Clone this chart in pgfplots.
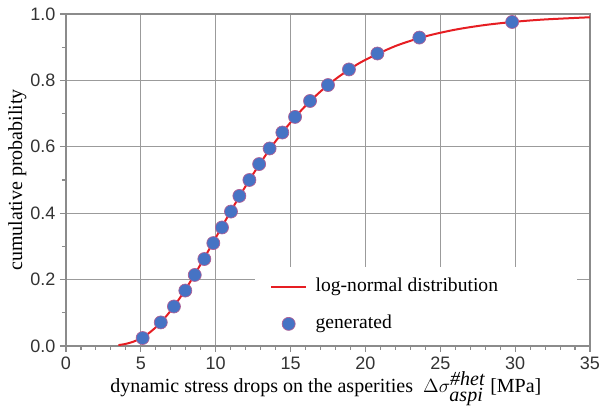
\documentclass[border=0pt]{standalone}
\usepackage{fontspec}
\setmainfont{Liberation Serif}
\newfontfamily\arial{Liberation Sans}
\usepackage{pgfplots}
\pgfplotsset{compat=1.18}
\definecolor{curvered}{RGB}{230,30,35}
\definecolor{dotblue}{RGB}{70,115,196}
\definecolor{dotedge}{RGB}{175,95,150}
\definecolor{gridgray}{RGB}{155,155,155}
\pgfplotsset{
  lineleg/.style={legend image code/.code={\draw[##1] (0pt,0pt) -- (26pt,0pt);}},
  dotleg/.style={legend image code/.code={\draw[##1] plot coordinates {(13pt,0pt)};}},
}

\begin{document}
\begin{tikzpicture}
\useasboundingbox (-49.5pt,-48pt) rectangle (403.5pt,259.5pt);
\begin{axis}[
  scale only axis,
  width=393pt, height=249pt,
  xmin=0, xmax=35, ymin=0, ymax=1,
  xtick={0,5,...,35},
  ytick={0,0.2,0.4,0.6,0.8,1.0},
  minor x tick num=4, minor y tick num=1,
  tick pos=left, tick align=outside,
  major tick length=4.5pt, minor tick length=3pt,
  grid=major,
  major grid style={gridgray, line width=0.9pt},
  axis line style={gridgray!90!black, line width=0.9pt},
  tick style={gridgray!90!black, line width=0.8pt},
  tick label style={font=\arial\fontsize{13.5}{15}\selectfont, text=black!80},
  /pgf/number format/assume math mode=true,
  yticklabel style={/pgf/number format/fixed, /pgf/number format/fixed zerofill,
    /pgf/number format/precision=1},
  xlabel={dynamic stress drops on the asperities\ \ $\Delta\sigma^{\textit{\#het}}_{\textit{aspi}}$ [MPa]},
  ylabel={cumulative probability},
  xlabel style={font=\fontsize{15}{17}\selectfont, at={(axis description cs:0.496,-0.128)}, anchor=center},
  ylabel style={font=\fontsize{15}{17}\selectfont, at={(axis description cs:-0.093,0.5)}, anchor=center},
  legend style={at={(axis cs:13.63,0.207)}, anchor=north west, draw=none, fill=none,
    font=\fontsize{14.7}{17}\selectfont, inner sep=0pt, row sep=13.75pt, column sep=6.5pt,
    nodes={inner sep=0pt, text height=10.5pt, text depth=3.5pt}},
  legend cell align=left,
]
\fill[white] (axis cs:12.62,0.004) rectangle (axis cs:34.13,0.238);

\addplot[curvered, line width=1.5pt, smooth, lineleg] coordinates {
  (3.5,0.0027) (4,0.0064) (4.5,0.0130) (5,0.0232) (5.5,0.0376) (6,0.0564)
  (6.5,0.0795) (7,0.1068) (7.5,0.1378) (8,0.1719) (8.5,0.2083) (9,0.2466)
  (9.5,0.2860) (10,0.3260) (10.5,0.3660) (11,0.4055) (11.5,0.4442) (12,0.4817)
  (12.5,0.5179) (13,0.5525) (13.5,0.5855) (14,0.6167) (15,0.6736) (16,0.7235)
  (17,0.7667) (18,0.8038) (19,0.8353) (20,0.8620) (22,0.9034) (24,0.9325)
  (26,0.9528) (28,0.9669) (30,0.9767) (32,0.9836) (35,0.9902)
};
\addlegendentry{log-normal distribution}

\addplot[only marks, mark=*, mark size=4.9pt,
  mark options={fill=dotblue, draw=dotedge, line width=0.5pt}, dotleg] coordinates {
  (5.12,0.024) (6.33,0.071) (7.21,0.119) (7.97,0.167) (8.60,0.214) (9.24,0.262)
  (9.84,0.310) (10.42,0.357) (11.02,0.405) (11.58,0.452) (12.25,0.500) (12.9,0.548)
  (13.6,0.595) (14.45,0.643) (15.3,0.690) (16.3,0.738) (17.5,0.786) (18.9,0.833)
  (20.8,0.881) (23.6,0.929) (29.8,0.976)
};
\addlegendentry{generated}
\end{axis}
\end{tikzpicture}
\end{document}
